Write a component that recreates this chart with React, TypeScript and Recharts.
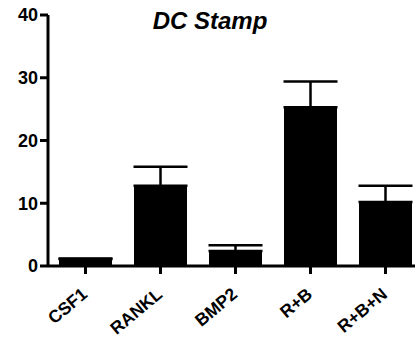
import { BarChart, Bar, XAxis, YAxis, ErrorBar } from "recharts";

const groups = ["CSF1", "RANKL", "BMP2", "R+B", "R+B+N"];
const means = [1.1, 12.8, 2.4, 25.3, 10.2];
const sems = [0.1, 3.0, 0.9, 4.1, 2.6];
const yTicks = [0, 10, 20, 30, 40];

const data = groups.map((g, i) => ({
  group: g,
  value: means[i],
  err: [0, sems[i]],
}));

const font = "'Liberation Sans', Arial, sans-serif";

function GroupTick({ x, y, payload }: any) {
  const tx = x + 3;
  const ty = y + 20;
  return (
    <text
      x={tx}
      y={ty}
      transform={`rotate(-40 ${tx} ${ty})`}
      textAnchor="end"
      fontFamily={font}
      fontWeight="bold"
      fontSize={17.5}
      fill="#000"
    >
      {payload.value}
    </text>
  );
}

export default function App() {
  return (
    <div
      style={{
        position: "absolute",
        left: 0,
        top: 0,
        width: 415,
        height: 339,
        overflow: "hidden",
        background: "#fff",
      }}
    >
      <BarChart
        width={430}
        height={339}
        data={data}
        margin={{ top: 15, right: 7, bottom: 0, left: 0 }}
      >
        <text
          x={210}
          y={29}
          textAnchor="middle"
          fontFamily={font}
          fontWeight="bold"
          fontStyle="italic"
          fontSize={24}
          fill="#000"
        >
          DC Stamp
        </text>
        <XAxis
          dataKey="group"
          height={73}
          interval={0}
          tickSize={8}
          axisLine={{ stroke: "#000", strokeWidth: 3 }}
          tickLine={{ stroke: "#000", strokeWidth: 3 }}
          tick={<GroupTick />}
        />
        <YAxis
          width={48}
          domain={[0, 40]}
          ticks={yTicks}
          tickSize={8}
          axisLine={{ stroke: "#000", strokeWidth: 3 }}
          tickLine={{ stroke: "#000", strokeWidth: 3 }}
          tick={{
            fill: "#000",
            fontFamily: font,
            fontWeight: "bold",
            fontSize: 18,
          }}
        />
        <Bar dataKey="value" fill="#000" barSize={53} isAnimationActive={false}>
          <ErrorBar
            dataKey="err"
            width={27}
            stroke="#000"
            strokeWidth={2.5}
            direction="y"
            isAnimationActive={false}
          />
        </Bar>
      </BarChart>
    </div>
  );
}
